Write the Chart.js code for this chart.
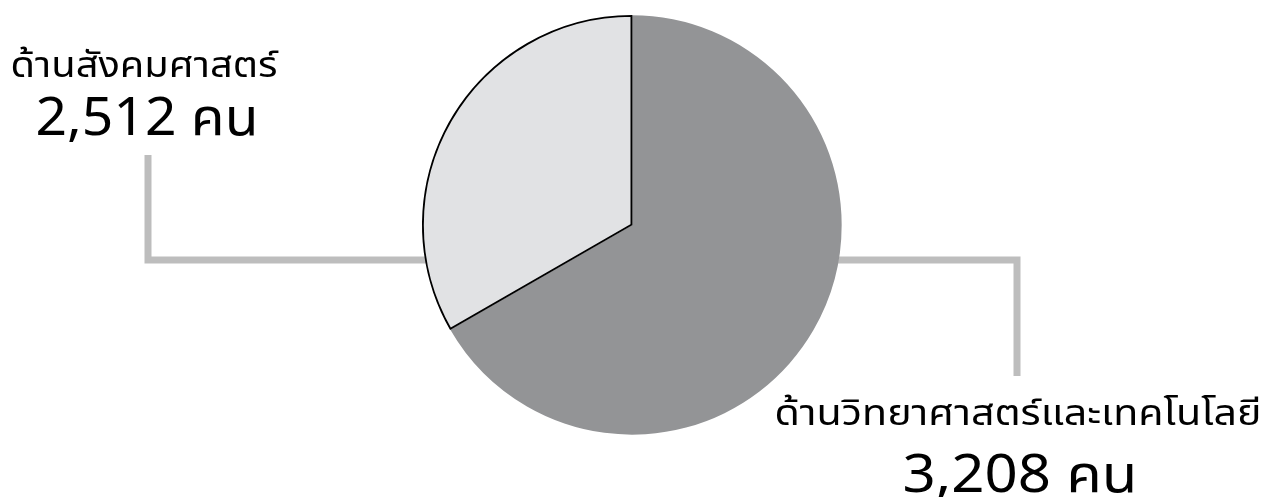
<!DOCTYPE html>
<html>
<head>
<meta charset="utf-8">
<script src="https://cdn.jsdelivr.net/npm/chart.js@4"></script>
<style>
html,body{margin:0;padding:0;background:#fff;}
#wrap{width:1271px;height:497px;position:relative;}
</style>
</head>
<body>
<div id="wrap"><canvas id="c" width="1271" height="497"></canvas></div>
<script>
// Categories (clockwise from 12 o'clock)
const categories = ['ด้านวิทยาศาสตร์และเทคโนโลยี', 'ด้านสังคมศาสตร์'];
// Head counts shown in the labels
const counts = [3208, 2512];
// Slice shares as drawn in the picture (percent of the circle)
const sliceShares = [66.7, 33.3];
const unit = 'คน';

const FONT = "'Noto Sans Thai','Noto Sans',sans-serif";

function fitText(ctx, text, font, cx, baseline, targetW) {
  ctx.font = font;
  const w = ctx.measureText(text).width;
  const s = targetW / w;
  ctx.save();
  ctx.translate(cx, baseline);
  ctx.scale(s, 1);
  ctx.textAlign = 'center';
  ctx.textBaseline = 'alphabetic';
  ctx.fillText(text, 0, 0);
  ctx.restore();
}

const calloutPlugin = {
  id: 'callouts',
  beforeDatasetsDraw(chart) {
    const arc = chart.getDatasetMeta(0).data[0];
    const cx = arc.x, cy = arc.y, r = arc.outerRadius;
    const ctx = chart.ctx;
    ctx.save();
    ctx.strokeStyle = '#bdbdbd';
    ctx.lineWidth = 7;
    ctx.lineJoin = 'miter';
    ctx.lineCap = 'butt';
    const ly = cy + 35;
    ctx.beginPath();
    ctx.moveTo(cx - r + 6, ly);
    ctx.lineTo(148, ly);
    ctx.lineTo(148, 155);
    ctx.stroke();
    ctx.beginPath();
    ctx.moveTo(cx + r - 6, ly);
    ctx.lineTo(1017, ly);
    ctx.lineTo(1017, 376);
    ctx.stroke();
    ctx.restore();
  },
  afterDraw(chart) {
    const ctx = chart.ctx;
    ctx.save();
    ctx.fillStyle = '#000';
    fitText(ctx, categories[1], '400 36px ' + FONT, 144, 77, 267);
    fitText(ctx, counts[1].toLocaleString('en-US') + ' ' + unit, '400 52px ' + FONT, 147, 135, 223);
    fitText(ctx, categories[0], '400 36px ' + FONT, 1018, 425, 487);
    fitText(ctx, counts[0].toLocaleString('en-US') + ' ' + unit, '400 52px ' + FONT, 1020, 492, 235);
    ctx.restore();
  }
};

new Chart(document.getElementById('c'), {
  type: 'pie',
  data: {
    labels: categories,
    datasets: [{
      data: sliceShares,
      backgroundColor: ['#939496', '#e1e2e4'],
      borderColor: ['#939496', '#000000'],
      borderWidth: [0, 1.5],
      borderAlign: 'inner'
    }]
  },
  options: {
    responsive: false,
    animation: false,
    rotation: 0,
    layout: { padding: { top: 15, bottom: 62, left: 422, right: 429 } },
    plugins: { legend: { display: false }, tooltip: { enabled: false } }
  },
  plugins: [calloutPlugin]
});
</script>
</body>
</html>
